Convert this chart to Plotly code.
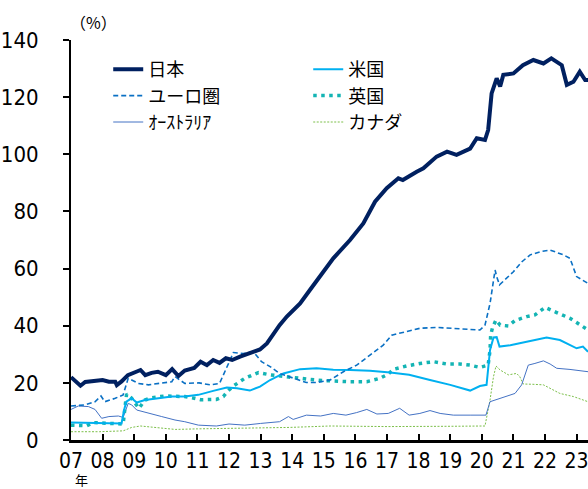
import plotly.graph_objects as go

# Year ticks
tick_years = list(range(2007, 2024))
tick_text = [f"{y % 100:02d}" for y in tick_years]

# 日本
jp_x = [2007.0, 2007.1, 2007.3, 2007.45, 2007.6, 2007.8, 2008.0, 2008.2, 2008.4, 2008.45,
        2008.6, 2008.8, 2009.0, 2009.2, 2009.35, 2009.55, 2009.75, 2010.0, 2010.2, 2010.4,
        2010.6, 2010.9, 2011.1, 2011.3, 2011.5, 2011.7, 2011.9, 2012.1, 2012.35, 2012.65,
        2012.98, 2013.2, 2013.4, 2013.6, 2013.83, 2014.03, 2014.25, 2014.56, 2014.88, 2015.3,
        2015.83, 2016.25, 2016.62, 2016.99, 2017.36, 2017.5, 2017.94, 2018.15, 2018.57, 2018.9,
        2019.2, 2019.63, 2019.84, 2020.1, 2020.2, 2020.31, 2020.47, 2020.58, 2020.68, 2021.0,
        2021.3, 2021.63, 2021.95, 2022.2, 2022.53, 2022.69, 2022.9, 2023.1, 2023.27, 2023.36]
jp_y = [22, 21, 19, 20.3, 20.5, 20.8, 21, 20.4, 20.4, 19.2,
        20.5, 22.7, 23.5, 24.5, 22.7, 23.5, 23.9, 22.7, 24.8, 22.4,
        24.3, 25.2, 27.4, 26.2, 28, 27, 28.6, 28, 29.2, 30.3,
        31.7, 33.8, 37.3, 40.2, 43.2, 45.5, 47.8, 52.5, 57.2, 63.6,
        70, 75.8, 83.4, 88.1, 91.6, 91, 93.9, 95.1, 99.2, 100.9,
        99.8, 102, 105.6, 105, 108.5, 121.3, 126.6, 123.7, 127.8, 128.3,
        131.2, 133, 131.8, 133.6, 131.2, 124.3, 125.4, 128.9, 126, 126]

# 米国
us_x = [2007.0, 2008.0, 2008.6, 2008.68, 2008.75, 2008.92, 2009.08, 2009.34, 2009.76, 2010.19,
        2010.6, 2011.03, 2011.5, 2011.93, 2012.25, 2012.66, 2012.98, 2013.3, 2013.72, 2014.25,
        2014.77, 2015.3, 2015.83, 2016.46, 2017.1, 2017.7, 2018.36, 2019.0, 2019.63, 2019.94,
        2020.15, 2020.26, 2020.37, 2020.47, 2020.56, 2020.9, 2021.42, 2022.05, 2022.47, 2023.0,
        2023.2, 2023.36]
us_y = [6.1, 5.8, 5.8, 10.5, 13.4, 14.6, 13.1, 14, 14.6, 15.2,
        15.2, 15.8, 17.2, 18.4, 18.1, 17.3, 18.7, 21, 23.3, 24.8,
        25.1, 24.6, 24.5, 24.2, 23.6, 22.8, 21, 19.3, 17.3, 18.9,
        19.3, 31.5, 35.9, 36, 32.7, 33.2, 34.4, 35.9, 35, 32.1,
        32.7, 30.9]

# ユーロ圏
ea_x = [2007.0, 2007.45, 2007.76, 2007.95, 2008.07, 2008.4, 2008.65, 2008.81, 2008.92, 2009.13,
        2009.45, 2009.87, 2010.19, 2010.29, 2010.6, 2011.05, 2011.4, 2011.7, 2011.98, 2012.14,
        2012.45, 2012.77, 2013.03, 2013.3, 2013.6, 2014.03, 2014.45, 2014.77, 2015.2, 2015.62,
        2016.04, 2016.46, 2016.88, 2017.15, 2017.52, 2018.04, 2018.57, 2019.1, 2019.63, 2019.94,
        2020.1, 2020.26, 2020.42, 2020.47, 2020.56, 2021.0, 2021.27, 2021.53, 2021.85, 2022.16,
        2022.58, 2022.79, 2023.0, 2023.36]
ea_y = [11.9, 12.3, 13.4, 15.4, 13.4, 14.6, 15.8, 21.6, 21, 19.8,
        19.3, 19.8, 20.4, 22.2, 19.8, 20, 19.3, 19.8, 26.8, 30.6,
        30.3, 30.9, 27.4, 25.7, 23.3, 21.6, 20.1, 20.1, 21, 23.9,
        26.2, 29.7, 33.2, 36.7, 37.6, 39.1, 39.4, 39.1, 38.7, 38.5,
        40.2, 47.8, 59.5, 57.2, 54.3, 58.9, 62.4, 64.8, 65.9, 66.5,
        64.8, 63.6, 57.2, 54.8]

# 英国
uk_x = [2007.0, 2007.5, 2007.7, 2008.4, 2008.65, 2008.73, 2008.76, 2008.92, 2009.15, 2009.34,
        2009.55, 2009.97, 2010.6, 2010.9, 2011.1, 2011.6, 2011.82, 2011.98, 2012.14, 2012.5,
        2012.93, 2013.3, 2013.72, 2014.14, 2014.56, 2014.98, 2015.3, 2015.83, 2016.36, 2016.78,
        2017.04, 2017.2, 2017.62, 2018.04, 2018.47, 2018.89, 2019.3, 2019.63, 2019.94, 2020.2,
        2020.26, 2020.28, 2020.34, 2020.45, 2020.58, 2020.84, 2021.05, 2021.42, 2021.68, 2021.85,
        2022.0, 2022.37, 2022.79, 2023.0, 2023.36]
uk_y = [5.2, 5.0, 6.1, 5.8, 5.6, 13.4, 16.1, 14.6, 11.1, 14,
        14.8, 15.4, 15.2, 14.6, 14.1, 14.2, 15.2, 17.3, 18.9, 21.6,
        23.6, 22.8, 22.2, 21.6, 21.2, 20.8, 20.6, 20.4, 20.4, 21.6,
        23.1, 24.7, 25.9, 26.8, 27.4, 26.6, 26.6, 26.2, 25.4, 26.2,
        31.5, 36.7, 39.4, 42, 40.2, 39.9, 41.8, 43.2, 43.8, 45.3,
        46.4, 44.6, 42.6, 41.1, 38.5]

# オーストラリア
au_x = [2007.0, 2007.23, 2007.55, 2007.76, 2007.97, 2008.2, 2008.5, 2008.65, 2008.81, 2008.92,
        2009.08, 2009.45, 2009.87, 2010.29, 2010.6, 2011.03, 2011.6, 2012.0, 2012.5, 2013.0,
        2013.6, 2013.88, 2014.03, 2014.45, 2014.9, 2015.3, 2015.7, 2016.04, 2016.36, 2016.68,
        2017.04, 2017.4, 2017.7, 2018.04, 2018.36, 2018.68, 2019.1, 2019.63, 2020.13, 2020.26,
        2020.47, 2020.79, 2021.05, 2021.26, 2021.47, 2021.68, 2021.95, 2022.16, 2022.37, 2022.79,
        2023.36]
au_y = [10.7, 11.9, 11.7, 10.7, 7.6, 8.2, 8.4, 7.9, 12.8, 12.3,
        10.5, 9.3, 8.2, 7, 6.4, 5.2, 4.9, 5.6, 5.2, 5.8,
        6.4, 8.2, 7.2, 8.7, 8.4, 9.3, 8.7, 9.6, 10.7, 9.1,
        9.3, 11.1, 8.7, 9.3, 10.3, 9.3, 8.7, 8.7, 8.7, 13.4,
        14.2, 15.2, 16.3, 19.3, 26.2, 26.8, 27.7, 26.6, 25.1, 24.7,
        23.9]

# カナダ
ca_x = [2007.0, 2007.9, 2008.65, 2008.92, 2009.2, 2009.7, 2010.3, 2011.0, 2012.0, 2013.0,
        2013.9, 2015.2, 2017.0, 2019.0, 2020.1, 2020.26, 2020.37, 2020.45, 2020.58, 2020.84,
        2021.1, 2021.2, 2021.31, 2021.62, 2021.95, 2022.47, 2022.9, 2023.36]
ca_y = [2.9, 2.9, 3.2, 4.4, 4.9, 4.4, 3.7, 3.9, 4.1, 4.1,
        4.4, 4.9, 4.7, 4.8, 4.9, 14, 22.2, 25.9, 24.5, 22.8,
        23.3, 22.2, 19.6, 19.5, 19.3, 16.3, 15.2, 13.4]

NUM_FONT = "Liberation Sans Narrow, Arial Narrow, DejaVu Sans Condensed, sans-serif"
JP_FONT = "Noto Sans CJK JP, sans-serif"

# (name, x, y, colour, width, dash, legend order); drawn back to front
series = [
    ("カナダ", ca_x, ca_y, "#7cbf4a", 1.0, "2px,1.5px", 6),
    ("ｵｰｽﾄﾗﾘｱ", au_x, au_y, "#4472c4", 1.0, "solid", 5),
    ("英国", uk_x, uk_y, "#14b4b4", 3.5, "3.5px,4.5px", 4),
    ("米国", us_x, us_y, "#00b0f0", 2.0, "solid", 2),
    ("ユーロ圏", ea_x, ea_y, "#0a70c4", 1.6, "5px,3px", 3),
    ("日本", jp_x, jp_y, "#002060", 4.0, "solid", 1),
]

fig = go.Figure()
for name, xs, ys, color, width, dash, rank in series:
    fig.add_trace(go.Scatter(
        x=xs, y=ys, name=name, mode="lines",
        line=dict(color=color, width=width, dash=dash),
        legendrank=rank,
    ))

fig.update_layout(
    width=588, height=489,
    margin=dict(l=71, r=0, t=40, b=49),
    paper_bgcolor="white", plot_bgcolor="white",
    font=dict(family=NUM_FONT, size=22, color="black"),
    showlegend=True,
    legend=dict(
        orientation="h", x=0.072, y=0.9725, xanchor="left", yanchor="top",
        entrywidth=155, entrywidthmode="pixels",
        font=dict(family=JP_FONT, size=18, color="black"),
        bgcolor="rgba(0,0,0,0)", borderwidth=0,
    ),
    xaxis=dict(
        range=[2007, 2023.36], tickmode="array", tickvals=tick_years, ticktext=tick_text,
        showgrid=False, zeroline=False, showline=True, linecolor="black", linewidth=2.5,
        ticks="inside", ticklen=6, tickwidth=1.5, tickcolor="black",
        tickfont=dict(family=NUM_FONT, size=21), ticklabelstandoff=0,
        ticklabeloverflow="allow",
    ),
    yaxis=dict(
        range=[0, 140], dtick=20, tick0=0,
        showgrid=False, zeroline=False, showline=True, linecolor="black", linewidth=2,
        ticks="outside", ticklen=6, tickwidth=1.5, tickcolor="black",
        tickfont=dict(family=NUM_FONT, size=22), ticklabelstandoff=20,
    ),
    annotations=[
        dict(text="（%）", xref="paper", yref="paper", x=0.0426, y=1.0, yshift=18,
             xanchor="center", yanchor="middle",
             showarrow=False, font=dict(family=JP_FONT, size=16, color="black")),
        dict(text="年", xref="paper", yref="paper", x=0.021, y=0, yshift=-39,
             xanchor="center", yanchor="middle",
             showarrow=False, font=dict(family=JP_FONT, size=13, color="black")),
    ],
)

fig.write_html("out.html")
